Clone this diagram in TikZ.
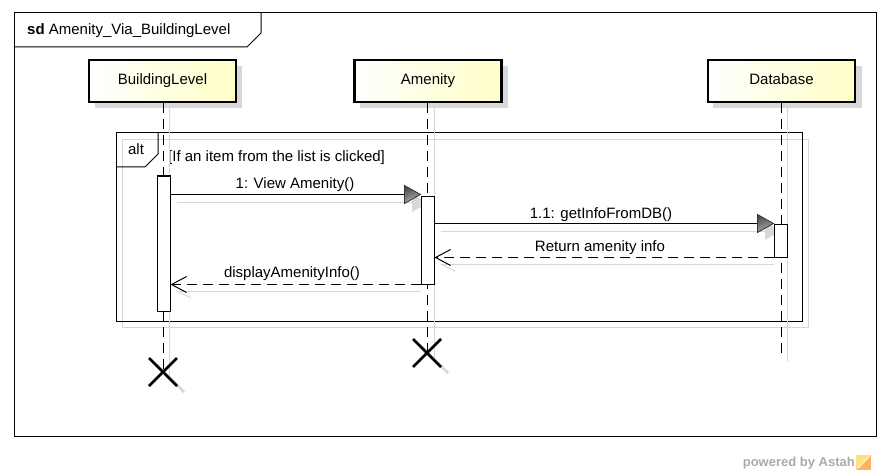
\documentclass[tikz,border=0pt]{standalone}
\usepackage{fontspec}
\setmainfont{Liberation Sans}
\usetikzlibrary{arrows.meta,calc}
\definecolor{shd}{RGB}{216,216,216}
\definecolor{lyel}{RGB}{255,255,200}
\definecolor{astah}{RGB}{170,170,170}
\begin{document}
\begin{tikzpicture}[x=1pt,y=-1pt,
  every node/.style={font=\fontsize{15}{18}\selectfont},
  head/.style={draw,line width=2.6pt,left color=white,right color=lyel,minimum width=147pt,minimum height=42pt,inner sep=0pt,text height=11pt,text depth=3pt},
  lifeline/.style={dash pattern=on 10pt off 6pt,line width=1pt},
  lshadow/.style={draw=shd,line width=1pt},
  act/.style={draw,fill=white,line width=1pt,minimum width=13pt,inner sep=0pt},
  msg/.style={line width=1pt},
  ret/.style={line width=1pt,dash pattern=on 10pt off 6pt},
  barb/.style={-{Straight Barb[length=15pt,width=16pt,line width=1pt]}},
  lbl/.style={inner sep=0pt,text height=11pt,text depth=3pt},
  xmark/.style={line width=2.5pt},
  frm/.style={line width=1pt},
]
\useasboundingbox (0,0) rectangle (889,476);
% sd frame
\draw[frm] (14,13) rectangle (876,436);
\draw[frm] (14,47) -- (247,47) -- (261,33) -- (261,13);
\node[anchor=west,lbl] (sdlbl) at (27,31) {\textbf{sd} Amenity\_Via\_BuildingLevel};

% alt frame
\draw[lshadow] (122,140) rectangle (808,327);
\draw[frm] (116,133) rectangle (802,321);
\draw[frm] (116,167) -- (145,167) -- (158,154) -- (158,133);
\node[lbl] (altlbl) at (136,151) {alt};
\node[anchor=west,lbl] (guard) at (168,157) {[If an item from the list is clicked]};

% head shadows
\fill[shd] (95,66) rectangle (242,108);
\fill[shd] (360,66) rectangle (508,108);
\fill[shd] (713,66) rectangle (862,108);

% lifeline shadows
\draw[lshadow] (169,108) -- (169,378);
\draw[lshadow] (434,108) -- (434,359);
\draw[lshadow] (787,108) -- (787,362);

% X shadows
\draw[shd,line width=2.5pt] (156,364) -- (184,392);
\draw[shd,line width=2.5pt] (420,345) -- (448,373);

% heads
\node[head] (bl) at (162.5,81) {BuildingLevel};
\node[head] (am) at (428,81) {Amenity};
\node[head] (db) at (781.5,81) {Database};

% end points
\coordinate (blx) at (163,372);
\coordinate (amx) at (427,353);
\coordinate (dbend) at (781,357);

% lifelines
\draw[lifeline] (bl.south -| blx) -- (blx);
\draw[lifeline] (am.south -| amx) -- (amx);
\draw[lifeline] (db.south -| dbend) -- (dbend);

% destruction marks
\draw[xmark] ($(blx)+(-14,-14)$) -- ($(blx)+(14,14)$);
\draw[xmark] ($(blx)+(-14,14)$) -- ($(blx)+(14,-14)$);
\draw[xmark] ($(amx)+(-14,-14)$) -- ($(amx)+(14,14)$);
\draw[xmark] ($(amx)+(-14,14)$) -- ($(amx)+(14,-14)$);

% message shadows
\draw[lshadow] (177,202) -- (415,202);
\fill[shd] (428,203) -- (412,194) -- (412,212) -- cycle;
\draw[lshadow] (441,231) -- (768,231);
\fill[shd] (781,231) -- (765,222) -- (765,240) -- cycle;
\draw[lshadow] (441,264) -- (774,264);
\draw[lshadow] (441,264) -- (455,271);
\draw[lshadow] (177,291) -- (421,291);
\draw[lshadow] (177,291) -- (191,298);

% activations
\node[act,minimum height=135pt] (a1) at (163.5,243.5) {};
\node[act,minimum height=88pt] (a2) at (427.5,240) {};
\node[act,minimum height=33pt] (a3) at (780.5,240.5) {};

% messages
\coordinate (m1e) at ($(a2.north west)+(0,-1)$);
\draw[msg] (a1.east |- m1e) -- (m1e);
\shade[draw=black!80,line width=0.8pt,top color=black!70,bottom color=black!30,shading angle=20]
  (m1e) -- ++(-16,-9) -- ++(0,18) -- cycle;
\node[lbl] (m1l) at (295,185) {1: View Amenity()};

\coordinate (m2e) at (a3.north west);
\draw[msg] (a2.east |- m2e) -- (m2e);
\shade[draw=black!80,line width=0.8pt,top color=black!70,bottom color=black!30,shading angle=20]
  (m2e) -- ++(-16,-9) -- ++(0,18) -- cycle;
\node[lbl] (m2l) at (601,214) {1.1: getInfoFromDB()};

\draw[ret] (a3.south west) -- (a2.east |- a3.south west);
\draw[barb,line width=1pt] ($(a2.east |- a3.south west)+(2,0)$) -- (a2.east |- a3.south west);
\node[lbl] (m3l) at (600,247) {Return amenity info};

\draw[ret] (a2.south west) -- (a1.east |- a2.south west);
\draw[barb,line width=1pt] ($(a1.east |- a2.south west)+(2,0)$) -- (a1.east |- a2.south west);
\node[lbl] (m4l) at (292,273) {displayAmenityInfo()};

% watermark
\node[anchor=east,inner sep=0pt,text=astah,font=\bfseries\fontsize{13}{15}\selectfont] (pw) at (855,463) {powered by Astah};
\fill[orange!60] (856,455) rectangle (871,470);
\fill[yellow!60!orange!50] (856,455) -- (871,455) -- (856,470) -- cycle;
\draw[white,line width=1pt] (858,468) -- (869,457);
\end{tikzpicture}
\end{document}
